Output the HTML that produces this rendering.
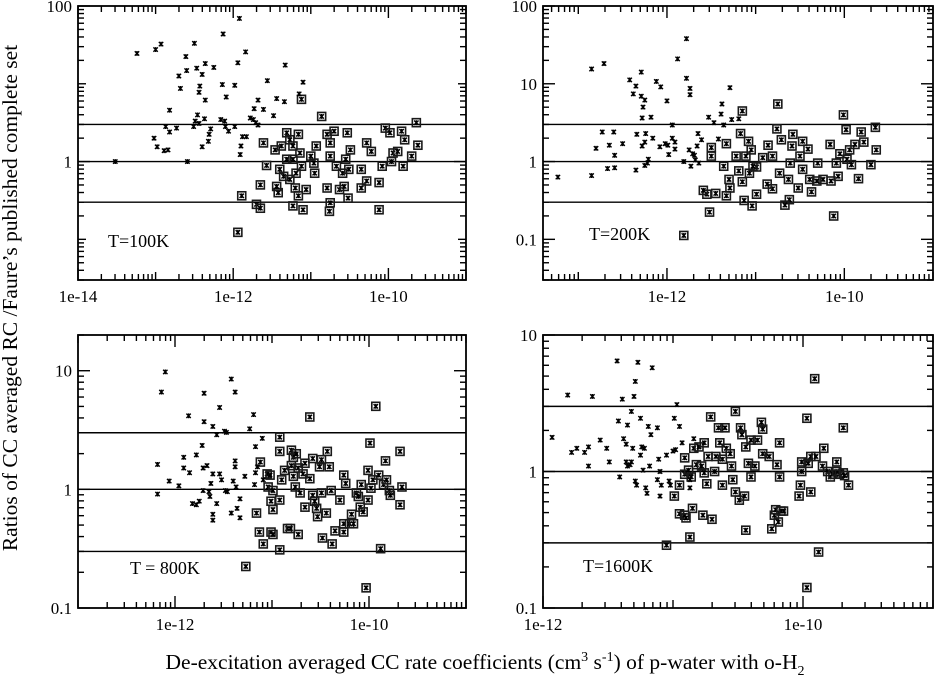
<!DOCTYPE html>
<html><head><meta charset="utf-8">
<style>
html,body{margin:0;padding:0;background:#fff;}
svg{display:block;font-family:"Liberation Serif",serif;}
</style></head>
<body>
<svg id="chart" width="934" height="677" viewBox="0 0 934 677" xmlns="http://www.w3.org/2000/svg">
<text x="0" y="0" transform="translate(17,298) rotate(-90)" text-anchor="middle" font-size="21.5">Ratios of CC averaged RC /Faure’s published complete set</text>
<text x="485" y="669" text-anchor="middle" font-size="21.5">De-excitation averaged CC rate coefficients (cm<tspan dy="-8" font-size="14">3</tspan><tspan dy="8"> s</tspan><tspan dy="-8" font-size="14">-1</tspan><tspan dy="8">) of p-water with o-H</tspan><tspan dy="6" font-size="14">2</tspan></text>
</svg>
<script>
// each entry: [log10 rate coefficient, log10 ratio]
const t100Plain=[[-13.52,0],[-13.24,1.39],[-13.0,1.44],[-12.93,1.51],[-13.02,0.30],[-12.98,0.19],[-12.89,0.14],[-12.84,0.15],[-12.87,0.45],[-12.82,0.38],[-12.82,0.66],[-12.73,0.43],[-12.70,1.10],[-12.68,0.94],[-12.61,1.35],[-12.60,1.17],[-12.50,1.52],[-12.59,0],[-12.51,0.45],[-12.49,0.52],[-12.46,0.60],[-12.44,0.49],[-12.43,0.97],[-12.44,0.89],[-12.47,1.20],[-12.40,1.12],[-12.36,1.26],[-12.36,0.79],[-12.37,0.55],[-12.40,0.19],[-12.32,0.26],[-12.31,0.35],[-12.29,0.42],[-12.25,1.21],[-12.13,1.64],[-12.14,0.99],[-12.09,0.83],[-12.16,0.54],[-12.11,0.52],[-12.10,0.45],[-12.06,0.39],[-11.98,0.98],[-11.98,0.45],[-11.94,1.27],[-11.92,1.84],[-11.91,0.09],[-11.90,0.20],[-11.88,0.32],[-11.84,1.41],[-11.83,0.32],[-11.78,0.56],[-11.74,0.54],[-11.71,0.50],[-11.68,0.47],[-11.73,0.68],[-11.68,0.79],[-11.61,0.67],[-11.56,1.04],[-11.48,0.59],[-11.44,0.81],[-11.33,1.24],[-11.34,0.77],[-11.15,0.87],[-11.10,1.02]];
const t100Boxed=[[-11.12,0.80],[-10.86,0.58],[-11.61,0.24],[-11.89,-0.44],[-11.94,-0.91],[-11.65,-0.30],[-11.57,-0.05],[-11.46,0.15],[-11.42,-0.40],[-11.44,-0.32],[-11.38,0.20],[-11.31,0.37],[-11.27,0.28],[-11.23,0.20],[-11.16,0.35],[-11.14,0.11],[-11.12,-0.06],[-11.40,-0.10],[-11.35,-0.19],[-11.27,-0.23],[-11.20,-0.34],[-11.16,-0.44],[-11.06,-0.36],[-11.10,-0.62],[-11.23,-0.57],[-11.70,-0.55],[-11.65,-0.60],[-11.31,0.03],[-11.23,0.03],[-11.19,-0.15],[-11.00,0.07],[-10.93,0.20],[-10.96,-0.02],[-10.95,-0.15],[-10.79,0.35],[-10.75,0.24],[-10.70,0.39],[-10.75,0.07],[-10.67,-0.06],[-10.79,-0.34],[-10.75,-0.53],[-10.76,-0.64],[-10.63,-0.36],[-10.59,-0.15],[-10.55,0.03],[-10.53,0.37],[-10.52,-0.47],[-10.49,0.15],[-10.51,-0.10],[-10.35,-0.10],[-10.35,-0.34],[-10.28,-0.25],[-10.28,0.24],[-10.12,-0.62],[-10.12,-0.27],[-10.08,-0.06],[-10.22,0.13],[-10.04,0.43],[-9.98,0.37],[-9.94,0.11],[-9.88,0.13],[-9.96,0.0],[-9.83,0.39],[-9.81,-0.06],[-9.79,0.28],[-9.70,0.07],[-9.62,0.21],[-9.64,0.50],[-10.57,-0.32]];
const t200Plain=[[-13.23,-0.20],[-12.85,1.19],[-12.85,-0.18],[-12.80,0.17],[-12.71,1.26],[-12.73,0.38],[-12.67,-0.09],[-12.65,0.21],[-12.60,0.38],[-12.59,0.08],[-12.59,-0.08],[-12.50,0.23],[-12.42,1.05],[-12.38,0.87],[-12.35,0.97],[-12.35,-0.11],[-12.34,0.35],[-12.29,1.15],[-12.29,0.84],[-12.27,0.70],[-12.28,0.56],[-12.28,0.20],[-12.25,0.79],[-12.25,0.25],[-12.24,0.36],[-12.25,-0.05],[-12.22,-0.02],[-12.21,0.03],[-12.18,0.57],[-12.16,0.30],[-12.12,1.03],[-12.07,0.96],[-12.08,0.19],[-12.02,0.23],[-12.00,0.78],[-11.99,0.21],[-11.98,0.09],[-11.94,0.47],[-11.94,0.30],[-11.91,0.25],[-11.91,0.16],[-11.88,1.32],[-11.78,1.58],[-11.78,1.07],[-11.74,0.94],[-11.74,0.86],[-11.81,0],[-11.75,0.15],[-11.73,-0.06],[-11.71,0.10],[-11.69,0.08],[-11.66,0.20],[-11.65,0.36],[-11.68,0.02],[-11.64,-0.02],[-11.61,0.28],[-11.53,0.57],[-11.47,0.50],[-11.42,0.29],[-11.39,0.61],[-11.38,0.74],[-11.36,0.47],[-11.29,0.95],[-11.27,0.54],[-11.19,0.55]];
const t200Boxed=[[-11.15,0.65],[-10.75,0.74],[-10.01,0.60],[-9.98,0.41],[-9.65,0.44],[-9.64,0.15],[-9.81,0.38],[-9.78,0.25],[-9.70,-0.04],[-9.84,-0.22],[-10.12,-0.70],[-10.16,0.22],[-10.05,0.10],[-9.94,0.15],[-9.88,0.22],[-9.97,0.03],[-9.92,-0.04],[-10.09,-0.02],[-10.07,-0.19],[-10.15,-0.25],[-10.24,-0.23],[-10.30,-0.02],[-10.31,-0.25],[-10.39,-0.23],[-10.37,-0.39],[-10.41,0.16],[-10.47,0.26],[-10.50,0.07],[-10.47,-0.10],[-10.52,-0.34],[-10.58,0.35],[-10.59,0.20],[-10.61,-0.02],[-10.63,-0.23],[-10.62,-0.49],[-10.67,-0.56],[-10.73,-0.15],[-10.71,0.28],[-10.76,0.42],[-10.81,-0.35],[-10.81,0.07],[-10.86,0.21],[-10.87,-0.29],[-10.92,0.05],[-10.99,-0.42],[-10.99,-0.07],[-11.04,-0.57],[-11.13,-0.50],[-11.05,0.15],[-11.07,-0.15],[-11.11,0.07],[-11.15,-0.26],[-11.17,0.36],[-11.19,-0.12],[-11.22,0.07],[-11.30,-0.23],[-11.29,-0.34],[-11.33,-0.44],[-11.36,-0.06],[-11.33,0.23],[-11.45,-0.41],[-11.50,0.07],[-11.50,0.18],[-11.52,-0.65],[-11.55,-0.42],[-11.59,-0.37],[-11.81,-0.95],[-11.08,0.26],[-11.03,-0.06]];
const t800Plain=[[-12.18,0.21],[-12.18,-0.04],[-12.14,0.82],[-12.10,0.99],[-12.06,0.07],[-11.96,0.03],[-11.91,0.27],[-11.91,0.18],[-11.85,0.14],[-11.86,0.62],[-11.82,-0.12],[-11.78,-0.13],[-11.78,0.29],[-11.75,-0.10],[-11.72,0.37],[-11.71,-0.01],[-11.71,0.18],[-11.70,0.81],[-11.70,0.57],[-11.67,0.20],[-11.65,-0.02],[-11.64,-0.06],[-11.63,0.05],[-11.61,-0.21],[-11.61,-0.26],[-11.61,0.53],[-11.61,0.13],[-11.57,0.46],[-11.57,-0.12],[-11.54,0.69],[-11.54,0.13],[-11.52,0.08],[-11.49,0.49],[-11.48,-0.01],[-11.47,0.48],[-11.46,-0.02],[-11.42,-0.20],[-11.42,0.93],[-11.40,0.07],[-11.38,0.82],[-11.38,0.24],[-11.38,0.19],[-11.37,0.02],[-11.36,-0.16],[-11.33,-0.08],[-11.33,-0.24],[-11.28,0.11],[-11.23,0.51],[-11.19,0.63],[-11.18,0.04],[-11.17,0.36],[-11.17,0.14],[-11.15,0.19],[-11.10,0.43],[-11.09,0.08]];
const t800Boxed=[[-11.27,-0.65],[-11.16,-0.20],[-11.12,0.23],[-11.13,-0.36],[-11.09,-0.46],[-11.05,0.13],[-11.02,0.12],[-11.04,0.02],[-11.01,-0.10],[-11.01,-0.36],[-10.99,-0.38],[-10.99,-0.17],[-10.99,-0.01],[-10.92,0.44],[-10.92,0.32],[-10.92,-0.51],[-10.92,-0.09],[-10.90,0.08],[-10.87,0.16],[-10.84,-0.33],[-10.81,-0.33],[-10.80,0.33],[-10.80,0.20],[-10.78,0.27],[-10.78,0.11],[-10.76,0.02],[-10.75,0.30],[-10.73,0.18],[-10.73,-0.38],[-10.71,-0.03],[-10.68,0.13],[-10.66,0.22],[-10.66,-0.15],[-10.61,0.09],[-10.61,0.61],[-10.58,0.26],[-10.58,-0.05],[-10.56,-0.10],[-10.54,-0.16],[-10.53,-0.23],[-10.51,0.19],[-10.49,0.25],[-10.49,-0.03],[-10.48,-0.41],[-10.44,-0.20],[-10.43,0.32],[-10.41,0.19],[-10.39,-0.01],[-10.38,-0.46],[-10.35,-0.35],[-10.30,-0.09],[-10.26,-0.29],[-10.26,0.12],[-10.26,-0.36],[-10.24,0.05],[-10.20,-0.29],[-10.18,-0.21],[-10.16,-0.29],[-10.13,-0.03],[-10.11,-0.06],[-10.09,-0.15],[-10.08,0.04],[-10.06,-0.19],[-10.03,-0.83],[-10.01,0.16],[-10.01,-0.09],[-9.99,0.39],[-9.98,0.01],[-9.96,0.08],[-9.93,0.70],[-9.90,0.12],[-9.88,-0.50],[-9.85,0.04],[-9.83,0.24],[-9.82,0.08],[-9.79,-0.01],[-9.78,-0.05],[-9.68,0.32],[-9.66,0.02],[-9.68,-0.13]];
const t1600Plain=[[-11.93,0.25],[-11.81,0.56],[-11.78,0.14],[-11.74,0.17],[-11.68,0.14],[-11.65,0.04],[-11.65,0.18],[-11.62,0.55],[-11.56,0.23],[-11.51,0.17],[-11.49,0.07],[-11.43,0.81],[-11.42,0.37],[-11.41,-0.04],[-11.39,0.53],[-11.38,0.24],[-11.36,0.20],[-11.35,0.34],[-11.36,0.07],[-11.35,0.04],[-11.33,0.05],[-11.32,0.44],[-11.32,0.07],[-11.31,0.17],[-11.30,0.55],[-11.29,0.66],[-11.29,-0.07],[-11.28,-0.10],[-11.27,0.80],[-11.25,0.12],[-11.25,0.39],[-11.24,0.18],[-11.23,0.01],[-11.22,0.17],[-11.21,-0.12],[-11.20,-0.16],[-11.19,0.33],[-11.18,0.04],[-11.17,0.27],[-11.16,0.76],[-11.12,0.32],[-11.12,-0.06],[-11.11,0.09],[-11.10,-0.18],[-11.10,0.00],[-11.09,-0.10],[-11.05,0.12],[-11.03,-0.07],[-11.02,-0.10],[-11.00,0.15],[-10.99,0.39],[-10.98,0.16],[-10.97,0.49],[-10.95,0.33],[-10.93,0.21],[-10.87,-0.12],[-10.87,-0.06],[-10.84,0.24]];
const t1600Boxed=[[-11.05,-0.54],[-10.99,-0.18],[-10.95,-0.10],[-10.95,-0.31],[-10.91,-0.32],[-10.90,-0.34],[-10.85,-0.27],[-10.87,-0.48],[-10.91,0.10],[-10.91,-0.02],[-10.88,0.01],[-10.86,-0.04],[-10.84,0.17],[-10.82,0.05],[-10.80,0.18],[-10.78,0.04],[-10.77,-0.32],[-10.76,-0.01],[-10.76,0.21],[-10.74,-0.09],[-10.73,0.11],[-10.71,0.40],[-10.70,-0.35],[-10.68,0.00],[-10.67,0.11],[-10.65,0.32],[-10.64,0.21],[-10.62,-0.10],[-10.62,0.09],[-10.60,0.32],[-10.59,0.17],[-10.56,0.13],[-10.55,0.04],[-10.54,-0.06],[-10.52,0.44],[-10.52,-0.15],[-10.49,-0.21],[-10.48,0.32],[-10.47,0.27],[-10.45,-0.18],[-10.44,0.18],[-10.44,-0.43],[-10.42,0.06],[-10.40,-0.04],[-10.40,0.23],[-10.37,0.04],[-10.35,0.23],[-10.32,0.36],[-10.31,0.13],[-10.31,0.31],[-10.26,0.11],[-10.24,-0.42],[-10.22,-0.32],[-10.21,-0.28],[-10.19,-0.37],[-10.17,-0.29],[-10.15,-0.29],[-10.20,0.05],[-10.18,0.21],[-10.18,-0.04],[-10.03,-0.18],[-10.02,-0.10],[-10.01,0.07],[-10.01,0.00],[-9.97,0.39],[-9.97,-0.85],[-9.96,0.06],[-9.94,-0.15],[-9.94,0.11],[-9.91,0.68],[-9.90,0.11],[-9.88,-0.59],[-9.85,0.04],[-9.84,0.17],[-9.81,0.00],[-9.79,-0.04],[-9.77,-0.02],[-9.74,0.00],[-9.74,0.07],[-9.72,-0.02],[-9.69,0.32],[-9.69,-0.01],[-9.68,-0.03],[-9.65,-0.10]];
const refRatios=[3,1,0.3];
const t100XTicks=["1e-14","1e-12","1e-10"], t100YTicks=["100","1"];
const t200XTicks=["1e-12","1e-10"], t200YTicks=["100","10","1","0.1"];
const t800XTicks=["1e-12","1e-10"], t800YTicks=["10","1","0.1"];
const t1600XTicks=["1e-12","1e-10"], t1600YTicks=["10","1","0.1"];
const panelTitles=["T=100K","T=200K","T = 800K","T=1600K"];

const NS="http://www.w3.org/2000/svg";
const svg=document.getElementById('chart');
function mk(tag,attrs,parent){const e=document.createElementNS(NS,tag);for(const k in attrs)e.setAttribute(k,attrs[k]);(parent||svg).appendChild(e);return e;}

const panels=[
 {name:'t100',box:[78,6,466,280],xr:[-14,-9],yr:[Math.log10(0.03),2],xt:t100XTicks,yt:t100YTicks,plain:t100Plain,boxed:t100Boxed,title:panelTitles[0],tp:[108,247]},
 {name:'t200',box:[543,6,933,280],xr:[Math.log10(4e-14),-9],yr:[Math.log10(0.03),2],xt:t200XTicks,yt:t200YTicks,plain:t200Plain,boxed:t200Boxed,title:panelTitles[1],tp:[589,240]},
 {name:'t800',box:[78,335,466,608],xr:[-13,-9],yr:[-1,Math.log10(20)],xt:t800XTicks,yt:t800YTicks,plain:t800Plain,boxed:t800Boxed,title:panelTitles[2],tp:[130,574]},
 {name:'t1600',box:[543,335,933,608],xr:[-12,-9],yr:[-1,1],xt:t1600XTicks,yt:t1600YTicks,plain:t1600Plain,boxed:t1600Boxed,title:panelTitles[3],tp:[583,572]}
];

panels.forEach(p=>{
 const [x0,y0,x1,y1]=p.box;
 const sx=v=>x0+(v-p.xr[0])/(p.xr[1]-p.xr[0])*(x1-x0);
 const sy=v=>y1-(v-p.yr[0])/(p.yr[1]-p.yr[0])*(y1-y0);
 const g=mk('g',{});
 
 
 const clipId='clip-'+p.name;
 const cp=mk('clipPath',{id:clipId},g);
 mk('rect',{x:x0,y:y0,width:x1-x0,height:y1-y0},cp);
 const tg=mk('g',{stroke:'#000','stroke-width':1.4},g);
 
 
 const xLabelVals=p.xt.map(s=>Math.log10(parseFloat(s)));
 const yLabelVals=p.yt.map(s=>Math.log10(parseFloat(s)));
 for(let d=Math.floor(p.xr[0]);d<=Math.ceil(p.xr[1]);d++){
  for(let m=1;m<=9;m++){
   const v=d+Math.log10(m); if(v<p.xr[0]-1e-6||v>p.xr[1]+1e-6)continue;
   const X=sx(v); const major=m===1&&xLabelVals.some(q=>Math.abs(q-v)<1e-6);
   const L=major?12:(m===1?8:6);
   mk('line',{x1:X,y1:y1,x2:X,y2:y1-L},tg); mk('line',{x1:X,y1:y0,x2:X,y2:y0+L},tg);
  }
 }
 for(let d=Math.floor(p.yr[0]);d<=Math.ceil(p.yr[1]);d++){
  for(let m=1;m<=9;m++){
   const v=d+Math.log10(m); if(v<p.yr[0]-1e-6||v>p.yr[1]+1e-6)continue;
   const Y=sy(v); const major=m===1&&yLabelVals.some(q=>Math.abs(q-v)<1e-6);
   const L=major?12:(m===1?8:6);
   mk('line',{x1:x0,y1:Y,x2:x0+L,y2:Y},tg); mk('line',{x1:x1,y1:Y,x2:x1-L,y2:Y},tg);
  }
 }
 p.xt.forEach((s,i)=>{const t=mk('text',{x:sx(xLabelVals[i]),y:y1+22,'text-anchor':'middle','font-size':17},g);t.textContent=s;
  
  });
 p.yt.forEach((s,i)=>{const t=mk('text',{x:x0-6,y:sy(yLabelVals[i])+6,'text-anchor':'end','font-size':17},g);t.textContent=s;
  
  });
 refRatios.forEach(r=>{const Y=sy(Math.log10(r));if(Y<y0||Y>y1)return;
  const l=mk('line',{x1:x0,y1:Y,x2:x1,y2:Y,stroke:'#000','stroke-width':1.4},g);
  
  });
 const pg=mk('g',{'clip-path':'url(#'+clipId+')'},g);
 function cross(X,Y,par){mk('path',{d:`M${X-2.2} ${Y-2.2}L${X+2.2} ${Y+2.2}M${X+2.2} ${Y-2.2}L${X-2.2} ${Y+2.2}M${X} ${Y-2.4}L${X} ${Y+2.4}`,stroke:'#000','stroke-width':1.4},par);}
 p.boxed.forEach(d=>{const X=sx(d[0]),Y=sy(d[1]);
  const r=mk('rect',{x:X-4,y:Y-4,width:8,height:8,fill:'none',stroke:'#1a1a1a','stroke-width':1.6},pg);
  
  
  cross(X,Y,pg);});
 p.plain.forEach(d=>{const X=sx(d[0]),Y=sy(d[1]);
  const c=mk('g',{},pg);
  
  
  cross(X,Y,c);});
 const fr=mk('rect',{x:x0,y:y0,width:x1-x0,height:y1-y0,fill:'none',stroke:'#000','stroke-width':1.8},g);
 
 
 const tt=mk('text',{x:p.tp[0],y:p.tp[1],'font-size':18},g);
 tt.textContent=p.title;
 
 
});
</script>
</body></html>
